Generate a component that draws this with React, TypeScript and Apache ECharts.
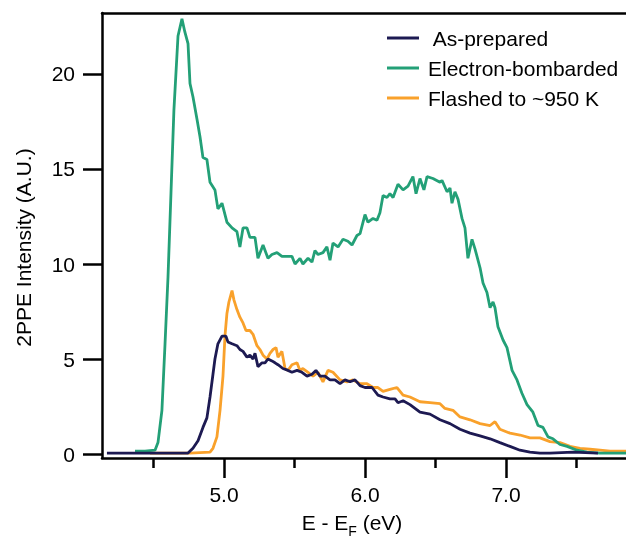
import React, { useEffect, useRef } from "react";
import * as echarts from "echarts";

const FONT = "'Liberation Sans', Arial, Helvetica, sans-serif";

const X_MIN = 4.135;
const X_MAX = 7.851;
const Y_MIN = -0.21;
const Y_MAX = 23.21;

const xMajorTicks = [5, 6, 7];
const xMinorTicks = [4.5, 5.5, 6.5, 7.5];
const yTicks = [0, 5, 10, 15, 20];

const seriesNames = [" As-prepared", "Electron-bombarded", "Flashed to ~950 K"];
const seriesColors = ["#1d1a52", "#23a077", "#f9a12b"];

// As-prepared [E - E_F (eV), intensity]
const asPrepared = [
  [4.17, 0.05], [4.475, 0.05], [4.745, 0.05], [4.78, 0.3], [4.816, 0.7], [4.851, 1.4],
  [4.879, 1.9], [4.901, 3.0], [4.922, 4.2], [4.936, 5.0], [4.957, 5.8], [4.986, 6.2],
  [5.014, 6.2], [5.028, 5.9], [5.057, 5.8], [5.092, 5.7], [5.113, 5.5], [5.135, 5.4],
  [5.163, 5.1], [5.184, 5.2], [5.206, 5.0], [5.22, 5.3], [5.241, 4.6], [5.27, 4.8],
  [5.291, 4.8], [5.312, 5.0], [5.34, 4.9], [5.362, 4.8], [5.383, 4.7], [5.418, 4.5],
  [5.454, 4.4], [5.482, 4.3], [5.518, 4.4], [5.553, 4.3], [5.589, 4.1], [5.624, 4.2],
  [5.652, 4.4], [5.681, 4.1], [5.716, 4.1], [5.752, 3.9], [5.787, 3.9], [5.823, 3.7],
  [5.858, 3.9], [5.894, 3.8], [5.929, 3.9], [5.965, 3.6], [6.0, 3.5], [6.05, 3.5],
  [6.092, 3.1], [6.128, 3.0], [6.177, 2.9], [6.213, 2.9], [6.234, 2.7], [6.27, 2.8],
  [6.319, 2.6], [6.39, 2.2], [6.461, 2.1], [6.532, 1.8], [6.603, 1.6], [6.674, 1.3],
  [6.745, 1.1], [6.816, 0.95], [6.887, 0.8], [6.957, 0.6], [7.028, 0.4], [7.099, 0.2],
  [7.17, 0.1], [7.241, 0.05], [7.312, 0.05], [7.475, 0.1], [7.652, 0.05],
];

// Electron-bombarded
const electronBombarded = [
  [4.369, 0.15], [4.44, 0.15], [4.511, 0.2], [4.532, 0.6], [4.56, 2.3], [4.582, 5.8],
  [4.603, 9.3], [4.624, 13.7], [4.645, 18.1], [4.674, 22.0], [4.702, 22.9], [4.723, 22.2],
  [4.745, 21.6], [4.759, 19.5], [4.78, 18.8], [4.809, 17.6], [4.83, 16.7], [4.851, 15.6],
  [4.879, 15.5], [4.901, 14.3], [4.936, 13.9], [4.957, 12.9], [4.986, 13.2], [5.021, 12.2],
  [5.057, 11.9], [5.092, 11.7], [5.113, 10.9], [5.135, 11.9], [5.163, 11.9], [5.184, 11.4],
  [5.22, 11.4], [5.241, 10.3], [5.277, 11.0], [5.312, 10.3], [5.34, 10.5], [5.376, 10.6],
  [5.411, 10.4], [5.447, 10.4], [5.482, 10.4], [5.504, 10.0], [5.539, 10.3], [5.56, 10.0],
  [5.596, 10.3], [5.624, 10.1], [5.645, 10.7], [5.667, 10.5], [5.702, 10.6], [5.73, 10.9],
  [5.752, 10.2], [5.773, 11.1], [5.809, 10.9], [5.844, 11.3], [5.879, 11.2], [5.908, 11.0],
  [5.943, 11.5], [5.965, 11.6], [6.0, 12.6], [6.021, 12.2], [6.057, 12.4], [6.085, 12.3],
  [6.106, 12.7], [6.128, 13.6], [6.156, 13.5], [6.177, 13.7], [6.199, 13.5], [6.234, 14.2],
  [6.27, 13.9], [6.305, 14.1], [6.34, 14.6], [6.362, 13.7], [6.39, 14.5], [6.418, 13.9],
  [6.44, 14.6], [6.482, 14.5], [6.532, 14.3], [6.546, 14.4], [6.582, 13.8], [6.603, 14.0],
  [6.617, 13.2], [6.638, 13.8], [6.66, 13.4], [6.688, 12.4], [6.709, 11.9], [6.73, 10.3],
  [6.759, 11.3], [6.78, 10.8], [6.816, 9.8], [6.837, 9.0], [6.865, 8.5], [6.887, 7.7],
  [6.908, 8.0], [6.922, 7.7], [6.943, 6.7], [6.979, 6.0], [7.007, 5.6], [7.043, 4.4],
  [7.078, 3.9], [7.113, 3.2], [7.149, 2.6], [7.191, 2.2], [7.227, 1.5], [7.262, 1.4],
  [7.298, 0.9], [7.333, 0.8], [7.383, 0.5], [7.433, 0.4], [7.504, 0.2], [7.574, 0.1],
  [7.667, 0.05], [7.851, 0.05],
];

// Flashed to ~950 K
const flashed = [
  [4.475, 0.05], [4.759, 0.05], [4.901, 0.1], [4.922, 0.3], [4.95, 0.9], [4.972, 2.3],
  [4.993, 4.1], [5.007, 6.2], [5.021, 7.4], [5.035, 8.0], [5.057, 8.6], [5.071, 8.1],
  [5.092, 7.6], [5.113, 7.2], [5.135, 6.9], [5.156, 6.5], [5.184, 6.5], [5.206, 6.3],
  [5.234, 5.7], [5.255, 5.5], [5.277, 5.2], [5.305, 5.0], [5.326, 5.3], [5.348, 5.5],
  [5.369, 5.6], [5.383, 5.1], [5.411, 5.4], [5.433, 4.5], [5.454, 4.4], [5.482, 4.7],
  [5.518, 4.8], [5.539, 4.4], [5.56, 4.5], [5.596, 4.3], [5.631, 4.1], [5.667, 4.3],
  [5.702, 3.8], [5.738, 4.4], [5.773, 4.3], [5.823, 3.9], [5.872, 3.8], [5.915, 3.9],
  [5.965, 3.7], [6.014, 3.7], [6.057, 3.5], [6.092, 3.5], [6.128, 3.3], [6.177, 3.4],
  [6.227, 3.5], [6.27, 3.1], [6.319, 3.0], [6.39, 2.75], [6.461, 2.7], [6.532, 2.65],
  [6.567, 2.4], [6.624, 2.3], [6.674, 1.95], [6.745, 1.8], [6.816, 1.6], [6.887, 1.5],
  [6.922, 1.7], [6.957, 1.3], [7.028, 1.1], [7.099, 1.0], [7.17, 0.85], [7.241, 0.85],
  [7.312, 0.65], [7.383, 0.6], [7.454, 0.4], [7.525, 0.3], [7.596, 0.25], [7.667, 0.2],
  [7.738, 0.15], [7.851, 0.15],
];

export default function App() {
  const ref = useRef<HTMLDivElement>(null);

  useEffect(() => {
    if (!ref.current) return;
    const chart = echarts.init(ref.current, null, { renderer: "svg" });
    const AX_W = 2.5;
    const lineSeries = (name: string, data: number[][], color: string) => ({
      type: "line",
      name,
      data,
      showSymbol: false,
      symbol: "none",
      lineStyle: { color, width: 2.8 },
      itemStyle: { color },
    });
    chart.setOption({
      animation: false,
      grid: { left: 102, right: 0, top: 13, bottom: 80, outerBoundsMode: "none" },
      legend: {
        orient: "vertical",
        left: 382,
        top: 22,
        itemWidth: 32,
        itemHeight: 3,
        itemGap: 8,
        icon: "rect",
        data: seriesNames,
        textStyle: { fontSize: 21, color: "#000", fontFamily: FONT, lineHeight: 22, padding: [0, 0, 0, 4] },
      },
      xAxis: [
        {
          type: "value",
          min: X_MIN,
          max: X_MAX,
          axisLine: { show: true, onZero: false, lineStyle: { color: "#000", width: AX_W } },
          axisTick: { show: true, customValues: xMajorTicks, length: 20, lineStyle: { color: "#000", width: AX_W } },
          axisLabel: {
            customValues: xMajorTicks,
            formatter: (v: number) => v.toFixed(1),
            margin: 26,
            fontSize: 21,
            color: "#000",
            fontFamily: FONT,
          },
          splitLine: { show: false },
          name: "{a|E - E}{b|F}{c| (eV)}",
          nameLocation: "middle",
          nameGap: 54,
          nameTextStyle: {
            rich: {
              a: { fontSize: 21, color: "#000", fontFamily: FONT, padding: [0, 0, 5, 0], verticalAlign: "bottom" },
              b: { fontSize: 14, color: "#000", fontFamily: FONT, verticalAlign: "bottom" },
              c: { fontSize: 21, color: "#000", fontFamily: FONT, padding: [0, 24, 5, 0], verticalAlign: "bottom" },
            },
          },
        },
        {
          type: "value",
          position: "bottom",
          min: X_MIN,
          max: X_MAX,
          axisLine: { show: false, onZero: false },
          axisTick: { show: true, customValues: xMinorTicks, length: 10, lineStyle: { color: "#000", width: AX_W } },
          axisLabel: { show: false },
          splitLine: { show: false },
        },
        {
          type: "value",
          position: "top",
          min: X_MIN,
          max: X_MAX,
          axisLine: { show: true, onZero: false, lineStyle: { color: "#000", width: AX_W } },
          axisTick: { show: false },
          axisLabel: { show: false },
          splitLine: { show: false },
        },
      ],
      yAxis: {
        type: "value",
        min: Y_MIN,
        max: Y_MAX,
        axisLine: { show: true, onZero: false, lineStyle: { color: "#000", width: AX_W } },
        axisTick: { show: true, customValues: yTicks, length: 19, lineStyle: { color: "#000", width: AX_W } },
        axisLabel: { customValues: yTicks, margin: 27, fontSize: 21, color: "#000", fontFamily: FONT },
        splitLine: { show: false },
        name: "2PPE Intensity (A.U.)",
        nameLocation: "middle",
        nameRotate: 90,
        nameGap: 68,
        nameTextStyle: { fontSize: 21, color: "#000", fontFamily: FONT, padding: [0, 24, 0, 0] },
      },
      series: [
        lineSeries(seriesNames[2], flashed, seriesColors[2]),
        lineSeries(seriesNames[1], electronBombarded, seriesColors[1]),
        lineSeries(seriesNames[0], asPrepared, seriesColors[0]),
      ],
    });
    return () => chart.dispose();
  }, []);

  return <div ref={ref} style={{ position: "fixed", left: 0, top: 0, width: 626, height: 538 }} />;
}
